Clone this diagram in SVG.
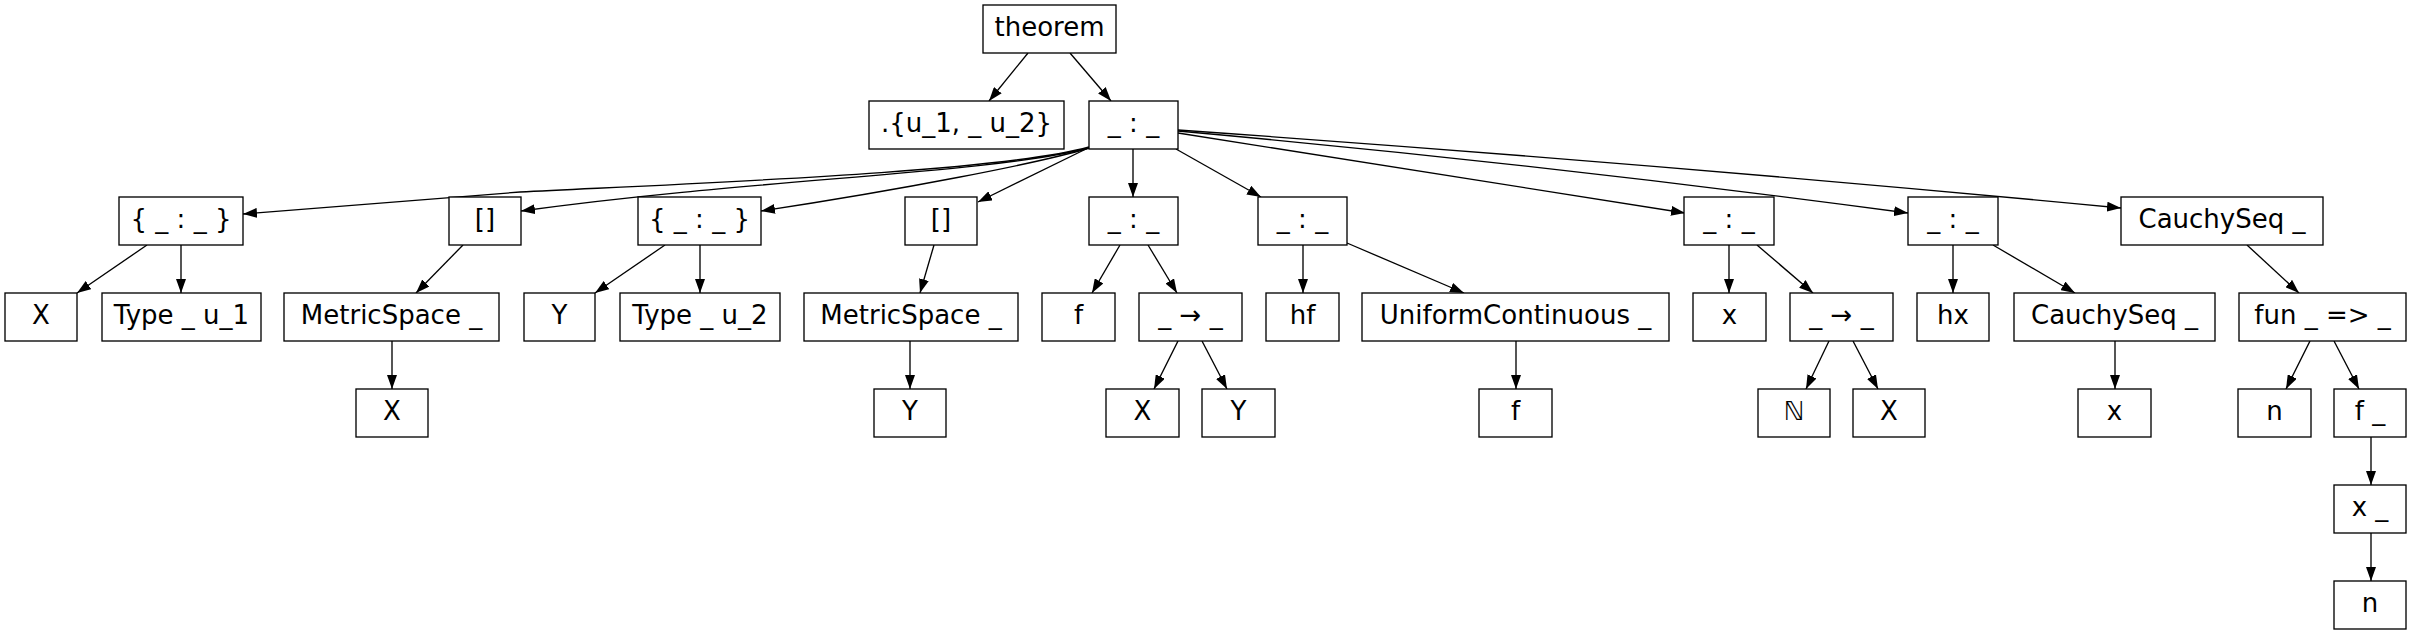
<svg xmlns="http://www.w3.org/2000/svg" width="2412" height="635" viewBox="0 0 2412 635">
<style>
.n rect{fill:#fff;stroke:#000;stroke-width:1.33}
.n text{font-family:"DejaVu Sans",sans-serif;font-size:26px;fill:#000;text-anchor:middle}
.e path{fill:none;stroke:#000;stroke-width:1.33;marker-end:url(#ah)}
</style>
<defs>
<marker id="ah" markerUnits="userSpaceOnUse" markerWidth="14" markerHeight="10" refX="14" refY="5" orient="auto">
<path d="M0,0 L14,5 L0,10 z" fill="#000"/>
</marker>
</defs>
<rect width="2412" height="635" fill="#fff"/>
<g class="e" id="edges">
<path d="M1028,53 L989,101"/>
<path d="M1070,53 L1111,101"/>
<path d="M1089,147 C1000,172 700,183 520,192 L243,214"/>
<path d="M1089,148 C980,175 760,178 521,211"/>
<path d="M1089,148 C1040,163 900,190 761,211"/>
<path d="M1088,148 L978,202"/>
<path d="M1133,149 L1133,197"/>
<path d="M1176,149 L1261,197"/>
<path d="M1178,133 L1685,213"/>
<path d="M1178,131 Q1543,164 1908,213"/>
<path d="M1178,130 Q1650,163 2121,208"/>
<path d="M147,245 L77,293"/>
<path d="M181,245 L181,293"/>
<path d="M463,245 L416,293"/>
<path d="M665,245 L595,293"/>
<path d="M700,245 L700,293"/>
<path d="M934,245 L920,293"/>
<path d="M1120,245 L1092,293"/>
<path d="M1148,245 L1177,293"/>
<path d="M1303,245 L1303,293"/>
<path d="M1347,243 L1464,293"/>
<path d="M1729,245 L1729,293"/>
<path d="M1757,245 L1813,293"/>
<path d="M1953,245 L1953,293"/>
<path d="M1993,245 L2075,293"/>
<path d="M2247,245 L2299,293"/>
<path d="M392,341 L392,389"/>
<path d="M910,341 L910,389"/>
<path d="M1178,341 L1154,389"/>
<path d="M1202,341 L1227,389"/>
<path d="M1516,341 L1516,389"/>
<path d="M1829,341 L1806,389"/>
<path d="M1853,341 L1878,389"/>
<path d="M2115,341 L2115,389"/>
<path d="M2310,341 L2286,389"/>
<path d="M2334,341 L2359,389"/>
<path d="M2371,437 L2371,485"/>
<path d="M2371,533 L2371,581"/>
</g>
<g class="n" id="theorem"><rect x="983" y="5" width="133" height="48"/><text x="1049.5" y="36">theorem</text></g>
<g class="n" id="univs"><rect x="869" y="101" width="195" height="48"/><text x="966.5" y="132">.{u_1, _ u_2}</text></g>
<g class="n" id="root"><rect x="1089" y="101" width="89" height="48"/><text x="1133.5" y="132">_ : _</text></g>
<g class="n" id="binderX"><rect x="119" y="197" width="124" height="48"/><text x="181" y="228">{ _ : _ }</text></g>
<g class="n" id="inst1"><rect x="449" y="197" width="72" height="48"/><text x="485" y="228">[]</text></g>
<g class="n" id="binderY"><rect x="638" y="197" width="123" height="48"/><text x="699.5" y="228">{ _ : _ }</text></g>
<g class="n" id="inst2"><rect x="905" y="197" width="72" height="48"/><text x="941" y="228">[]</text></g>
<g class="n" id="typf"><rect x="1089" y="197" width="89" height="48"/><text x="1133.5" y="228">_ : _</text></g>
<g class="n" id="typhf"><rect x="1258" y="197" width="89" height="48"/><text x="1302.5" y="228">_ : _</text></g>
<g class="n" id="typx"><rect x="1684" y="197" width="90" height="48"/><text x="1729" y="228">_ : _</text></g>
<g class="n" id="typhx"><rect x="1908" y="197" width="90" height="48"/><text x="1953" y="228">_ : _</text></g>
<g class="n" id="cauchy1"><rect x="2121" y="197" width="202" height="48"/><text x="2222" y="228">CauchySeq _</text></g>
<g class="n" id="X1"><rect x="5" y="293" width="72" height="48"/><text x="41" y="324">X</text></g>
<g class="n" id="type1"><rect x="102" y="293" width="159" height="48"/><text x="181.5" y="324">Type _ u_1</text></g>
<g class="n" id="ms1"><rect x="284" y="293" width="215" height="48"/><text x="391.5" y="324">MetricSpace _</text></g>
<g class="n" id="Y1"><rect x="524" y="293" width="71" height="48"/><text x="559.5" y="324">Y</text></g>
<g class="n" id="type2"><rect x="620" y="293" width="160" height="48"/><text x="700" y="324">Type _ u_2</text></g>
<g class="n" id="ms2"><rect x="804" y="293" width="214" height="48"/><text x="911" y="324">MetricSpace _</text></g>
<g class="n" id="f1"><rect x="1042" y="293" width="73" height="48"/><text x="1078.5" y="324">f</text></g>
<g class="n" id="arr1"><rect x="1139" y="293" width="103" height="48"/><text x="1190.5" y="324">_ → _</text></g>
<g class="n" id="hf"><rect x="1266" y="293" width="73" height="48"/><text x="1302.5" y="324">hf</text></g>
<g class="n" id="uc"><rect x="1362" y="293" width="307" height="48"/><text x="1515.5" y="324">UniformContinuous _</text></g>
<g class="n" id="x1"><rect x="1693" y="293" width="73" height="48"/><text x="1729.5" y="324">x</text></g>
<g class="n" id="arr2"><rect x="1790" y="293" width="103" height="48"/><text x="1841.5" y="324">_ → _</text></g>
<g class="n" id="hx"><rect x="1917" y="293" width="72" height="48"/><text x="1953" y="324">hx</text></g>
<g class="n" id="cauchy2"><rect x="2014" y="293" width="201" height="48"/><text x="2114.5" y="324">CauchySeq _</text></g>
<g class="n" id="fun"><rect x="2239" y="293" width="167" height="48"/><text x="2322.5" y="324">fun _ =&gt; _</text></g>
<g class="n" id="X2"><rect x="356" y="389" width="72" height="48"/><text x="392" y="420">X</text></g>
<g class="n" id="Y2"><rect x="874" y="389" width="72" height="48"/><text x="910" y="420">Y</text></g>
<g class="n" id="X3"><rect x="1106" y="389" width="73" height="48"/><text x="1142.5" y="420">X</text></g>
<g class="n" id="Y3"><rect x="1202" y="389" width="73" height="48"/><text x="1238.5" y="420">Y</text></g>
<g class="n" id="f2"><rect x="1479" y="389" width="73" height="48"/><text x="1515.5" y="420">f</text></g>
<g class="n" id="nat"><rect x="1758" y="389" width="72" height="48"/><text x="1794" y="420">ℕ</text></g>
<g class="n" id="X4"><rect x="1853" y="389" width="72" height="48"/><text x="1889" y="420">X</text></g>
<g class="n" id="x2"><rect x="2078" y="389" width="73" height="48"/><text x="2114.5" y="420">x</text></g>
<g class="n" id="n1"><rect x="2238" y="389" width="73" height="48"/><text x="2274.5" y="420">n</text></g>
<g class="n" id="fapp"><rect x="2334" y="389" width="72" height="48"/><text x="2370" y="420">f _</text></g>
<g class="n" id="xapp"><rect x="2334" y="485" width="72" height="48"/><text x="2370" y="516">x _</text></g>
<g class="n" id="n2"><rect x="2334" y="581" width="72" height="48"/><text x="2370" y="612">n</text></g>
</svg>
